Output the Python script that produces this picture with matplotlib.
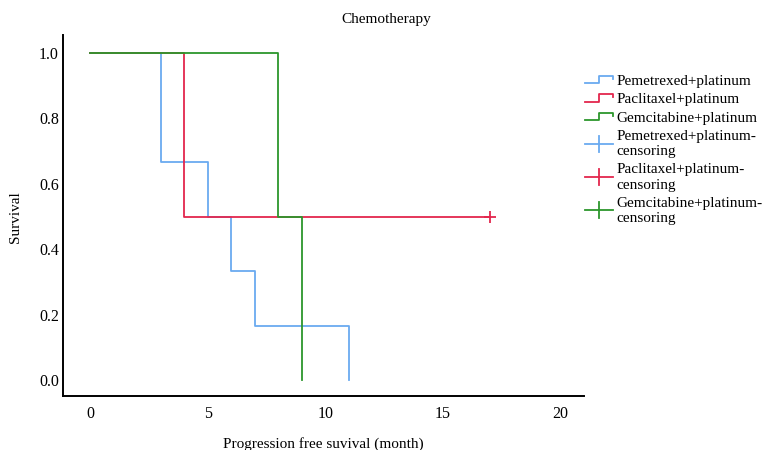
import matplotlib
matplotlib.use("Agg")
import matplotlib.pyplot as plt
from matplotlib.lines import Line2D
from matplotlib.legend_handler import HandlerBase

plt.rcParams['font.family'] = ['Liberation Serif', 'DejaVu Serif']

# Kaplan-Meier step data (time, survival)
pem_t = [0, 3, 5, 6, 7, 11]
pem_s = [1.0, 0.667, 0.5, 0.333, 0.167, 0.0]
pac_t = [0, 4, 17]
pac_s = [1.0, 0.5, 0.5]
gem_t = [0, 8, 9]
gem_s = [1.0, 0.5, 0.0]
pac_cens_t = [17]
pac_cens_s = [0.5]

labels = ["Pemetrexed+platinum", "Paclitaxel+platinum", "Gemcitabine+platinum",
          "Pemetrexed+platinum-\ncensoring", "Paclitaxel+platinum-\ncensoring",
          "Gemcitabine+platinum-\ncensoring"]
colors = ["#6aaaf0", "#e3264d", "#2c962c"]
xticks = [0, 5, 10, 15, 20]
yticks = [0.0, 0.2, 0.4, 0.6, 0.8, 1.0]

fig = plt.figure(figsize=(7.63, 4.5), dpi=100)
ax = fig.add_axes([63/763, 1-396/450, (584-63)/763, (396-35)/450])

lw = 1.3
ax.step(pem_t, pem_s, where='post', color=colors[0], lw=lw, zorder=2)
ax.step(pac_t, pac_s, where='post', color=colors[1], lw=lw, zorder=3)
ax.step(gem_t, gem_s, where='post', color=colors[2], lw=lw, zorder=4)
ax.plot(pac_cens_t, pac_cens_s, linestyle='none', marker='+', markersize=8,
        markeredgewidth=1.3, color=colors[1], zorder=5)

ax.set_xlim(-1.15, 21)
ax.set_ylim(-0.048, 1.055)
ax.set_xticks(xticks)
ax.set_yticks(yticks)
ax.set_yticklabels([f"{v:.1f}" for v in yticks])
ax.tick_params(length=0, labelsize=11.5)
ax.tick_params(axis='x', pad=7)
ax.tick_params(axis='y', pad=3)
for s in ['top', 'right']:
    ax.spines[s].set_visible(False)
for s in ['left', 'bottom']:
    ax.spines[s].set_linewidth(1.4)

fig.text(386/763, 1-20/450, "Chemotherapy", ha='center', va='center', fontsize=11)
fig.text(323/763, 1-444/450, "Progression free suvival (month)", ha='center', va='center', fontsize=11)
fig.text(16/763, 1-217/450, "Survival", ha='center', va='center', rotation=90, fontsize=11)


class StepHandler(HandlerBase):
    def create_artists(self, legend, orig_handle, xdescent, ydescent, width, height, fontsize, trans):
        c = orig_handle.get_color()
        x0, x1 = -xdescent, -xdescent + width
        xm = x0 + width * 0.5
        yl = -ydescent + height * 0.15
        yh = -ydescent + height * 0.85
        l = Line2D([x0, xm, xm, x1, x1], [yl, yl, yh, yh, yh - height * 0.3],
                   color=c, lw=lw, transform=trans)
        return [l]


class CensHandler(HandlerBase):
    def create_artists(self, legend, orig_handle, xdescent, ydescent, width, height, fontsize, trans):
        c = orig_handle.get_color()
        x0, x1 = -xdescent, -xdescent + width
        ym = -ydescent + height / 2
        xm = x0 + width * 0.5
        l1 = Line2D([x0, x1], [ym, ym], color=c, lw=lw, transform=trans)
        l2 = Line2D([xm, xm], [ym - height * 0.75, ym + height * 0.75], color=c, lw=lw, transform=trans)
        return [l1, l2]


step_h = [Line2D([], [], color=c) for c in colors]
cens_h = [Line2D([], [], color=c) for c in colors]
hmap = {h: StepHandler() for h in step_h}
hmap.update({h: CensHandler() for h in cens_h})
leg = fig.legend(step_h + cens_h, labels, handler_map=hmap, loc='upper left',
                 bbox_to_anchor=(585/763, 1-74/450), frameon=False, fontsize=11,
                 handlelength=1.85, handletextpad=0.22, labelspacing=0.32,
                 borderpad=0, borderaxespad=0)
for t in leg.get_texts():
    t.set_linespacing(1.25)

fig.savefig("out.png", dpi=100)
